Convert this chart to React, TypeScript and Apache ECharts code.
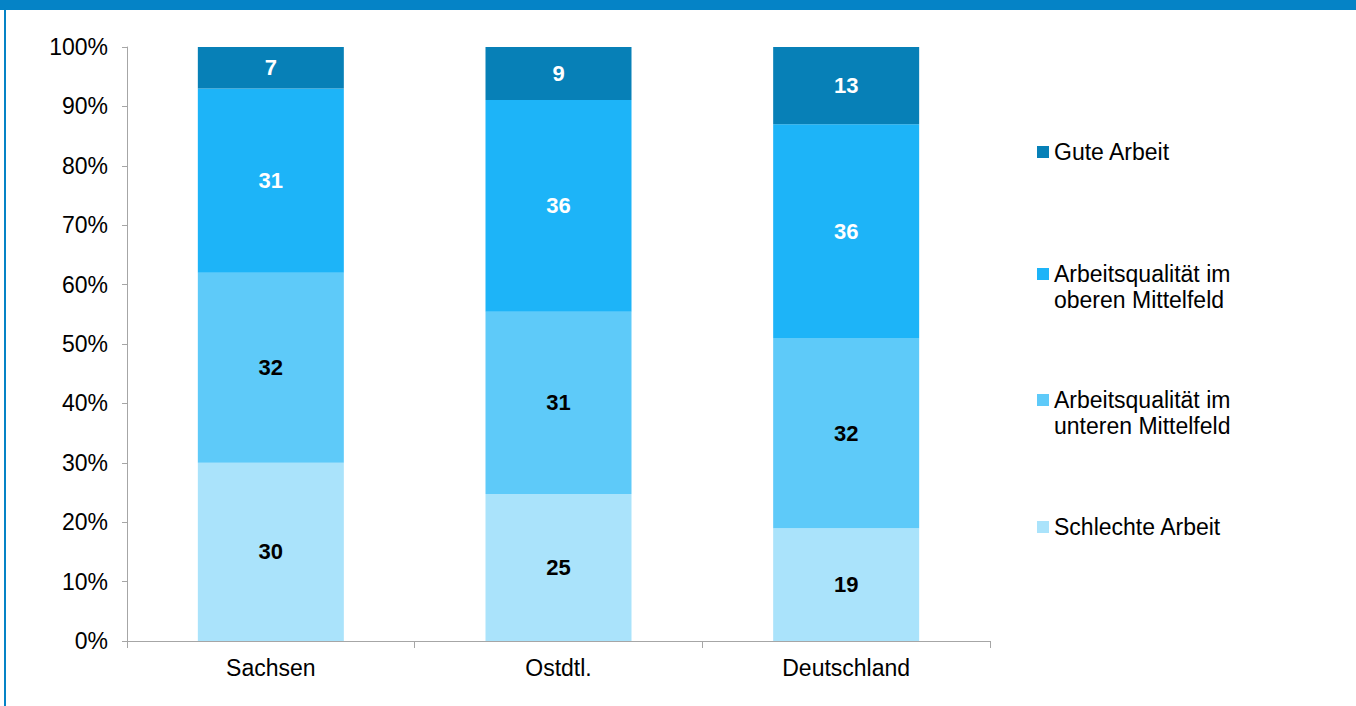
import React, { useEffect, useRef } from "react";
import * as echarts from "echarts";

const categories = ["Sachsen", "Ostdtl.", "Deutschland"];
const schlechteArbeit = [30, 25, 19];
const unteresMittelfeld = [32, 31, 32];
const oberesMittelfeld = [31, 36, 36];
const guteArbeit = [7, 9, 13];

const seriesNames = [
  "Schlechte Arbeit",
  "Arbeitsqualität im unteren Mittelfeld",
  "Arbeitsqualität im oberen Mittelfeld",
  "Gute Arbeit",
];
const legendLabels: Record<string, string> = {
  "Gute Arbeit": "Gute Arbeit",
  "Arbeitsqualität im oberen Mittelfeld": "\nArbeitsqualität im\noberen Mittelfeld",
  "Arbeitsqualität im unteren Mittelfeld": "\nArbeitsqualität im\nunteren Mittelfeld",
  "Schlechte Arbeit": "Schlechte Arbeit",
};
const colors = ["#AAE3FB", "#5ECAF9", "#1DB4F8", "#0780B7"];
const labelColors = ["#000000", "#000000", "#FFFFFF", "#FFFFFF"];
const legendTops = [134, 230, 356, 509];

export default function App() {
  const ref = useRef<HTMLDivElement>(null);
  useEffect(() => {
    if (!ref.current) return;
    const chart = echarts.init(ref.current, null, { renderer: "svg" });
    const raw = [schlechteArbeit, unteresMittelfeld, oberesMittelfeld, guteArbeit];
    const totals = categories.map((_, i) => raw.reduce((s, arr) => s + arr[i], 0));
    const font = "Arial, 'Liberation Sans', sans-serif";

    const series = raw.map((arr, k) => ({
      name: seriesNames[k],
      type: "bar",
      stack: "total",
      barWidth: 146,
      itemStyle: { color: colors[k] },
      label: {
        show: true,
        position: "inside",
        color: labelColors[k],
        fontWeight: "bold",
        fontSize: 22,
        fontFamily: font,
        formatter: (p: any) => String(arr[p.dataIndex]),
      },
      data: arr.map((v, i) => (v / totals[i]) * 100),
    }));

    const legendOrder = [3, 2, 1, 0];
    const legends = legendOrder.map((k, j) => ({
      data: [seriesNames[k]],
      orient: "vertical",
      left: 1032,
      top: legendTops[j],
      itemWidth: 12,
      itemHeight: 12,
      itemGap: 0,
      selectedMode: false,
      icon: "rect",
      formatter: (name: string) => legendLabels[name],
      textStyle: { fontSize: 23, fontFamily: font, color: "#000", lineHeight: 26 },
    }));

    chart.setOption({
      animation: false,
      backgroundColor: "#FFFFFF",
      grid: { left: 127, right: 366, top: 47, bottom: 65 },
      xAxis: {
        type: "category",
        data: categories,
        axisLine: { lineStyle: { color: "#A6A6A6", width: 1 } },
        axisTick: { show: true, length: 7, lineStyle: { color: "#A6A6A6" } },
        axisLabel: { fontSize: 23, fontFamily: font, color: "#000", margin: 15 },
      },
      yAxis: {
        type: "value",
        min: 0,
        max: 100,
        interval: 10,
        axisLine: { show: true, lineStyle: { color: "#A6A6A6", width: 1 } },
        axisTick: { show: true, length: 5, lineStyle: { color: "#A6A6A6" } },
        splitLine: { show: false },
        axisLabel: {
          fontSize: 23,
          fontFamily: font,
          color: "#000",
          margin: 19,
          formatter: (v: number) => v + "%",
        },
      },
      legend: legends,
      graphic: [
        { type: "rect", left: 0, top: 0, shape: { width: 1356, height: 10 }, style: { fill: "#0583C6" }, silent: true },
        { type: "rect", left: 4, top: 0, shape: { width: 2, height: 706 }, style: { fill: "#0583C6" }, silent: true },
      ],
      series,
    });
    return () => chart.dispose();
  }, []);
  return (
    <div
      ref={ref}
      style={{ position: "absolute", left: 0, top: 0, width: 1356, height: 706 }}
    />
  );
}
